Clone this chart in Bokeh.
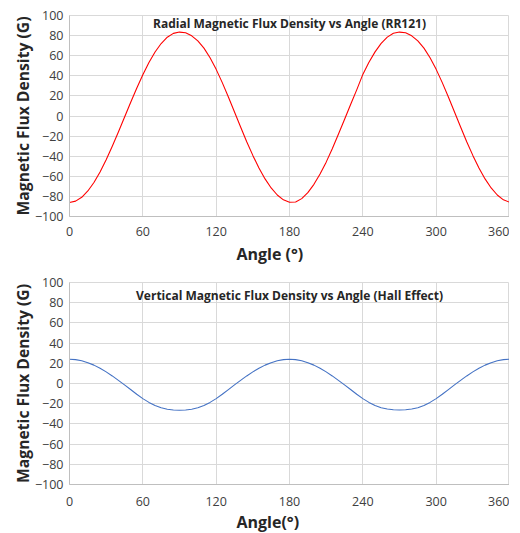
from bokeh.plotting import figure
from bokeh.layouts import column
from bokeh.models import Range1d, FixedTicker, Label, Title
from bokeh.embed import file_html
from bokeh.resources import INLINE

angle = list(range(0, 361, 5))

radial = [-86, -84.7, -80.9, -74.6, -66.2, -55.7, -43.6, -30.2, -16, -1.3,
          13.5, 27.7, 41.1, 53.2, 63.7, 72.1, 78.4, 82.2, 83.5, 82.8,
          79.8, 74.7, 67.5, 58, 46.4, 33.2, 18.9, 4, -11, -25.6,
          -39.2, -51.8, -62.6, -71.6, -78.6, -83.4, -85.8, -85.5, -82.2, -76.3,
          -68, -57.8, -45.9, -32.5, -18.2, -3.4, 11.5, 26, 41.4, 53.4,
          63.8, 72.2, 78.5, 82.3, 83.5, 82.8, 79.8, 74.7, 67.5, 58,
          46.4, 33.2, 18.9, 4, -11, -25.6, -39.2, -51.8, -62.6, -71.6,
          -78.6, -83.4, -85.8]

vertical = [24, 23.6, 22.5, 20.6, 18.2, 15.1, 11.5, 7.5, 3.1, -1.4,
            -6, -10.7, -15, -18.7, -21.8, -24, -25.5, -26.3, -26.5, -26.3,
            -25.5, -24, -21.8, -18.7, -15, -10.7, -6, -1.4, 3.1, 7.5,
            11.5, 15.1, 18.2, 20.6, 22.5, 23.6, 24, 23.6, 22.5, 20.6,
            18.2, 15.1, 11.5, 7.5, 3.1, -1.4, -6, -10.7, -15, -18.7,
            -21.8, -24, -25.3, -26, -26.2, -26, -25.3, -24, -21.8, -18.7,
            -15, -10.7, -6, -1.4, 3.1, 7.5, 11.5, 15.1, 18.2, 20.6,
            22.5, 23.6, 24]

x_ticks = [0, 60, 120, 180, 240, 300, 360]
y_ticks = [-100, -80, -60, -40, -20, 0, 20, 40, 60, 80, 100]

titles = ["Radial Magnetic Flux Density vs Angle (RR121)",
          "Vertical Magnetic Flux Density vs Angle (Hall Effect)"]
x_labels = ["Angle (\u00b0)", "Angle(\u00b0)"]
y_label = "Magnetic Flux Density (G)"

FONT = "Open Sans"


def make(title, series, color, xlabel, fh, top, title_y, tick_sd, lab_sd):
    p = figure(frame_width=440, frame_height=fh,
               x_range=Range1d(0, 360), y_range=Range1d(-100, 100),
               output_backend="svg", toolbar_location=None,
               min_border_left=69, min_border_right=0,
               min_border_top=top, min_border_bottom=0)
    p.line(angle, series, line_color=color, line_width=1.1,
           line_join="round")
    p.outline_line_color = "#d9d9d9"
    p.background_fill_color = "white"
    p.border_fill_color = "white"
    p.xaxis.ticker = FixedTicker(ticks=x_ticks)
    p.yaxis.ticker = FixedTicker(ticks=y_ticks)
    p.xgrid.ticker = FixedTicker(ticks=x_ticks)
    p.ygrid.ticker = FixedTicker(ticks=y_ticks)
    p.grid.grid_line_color = "#d9d9d9"
    p.grid.grid_line_width = 1
    for ax in (p.xaxis, p.yaxis):
        ax.axis_line_color = "#bfbfbf"
        ax.major_tick_line_color = None
        ax.minor_tick_line_color = None
        ax.major_tick_out = 0
        ax.major_tick_in = 0
        ax.major_label_text_font = FONT
        ax.major_label_text_font_size = "12.5px"
        ax.major_label_text_color = "#404040"
        ax.axis_label_text_font = FONT
        ax.axis_label_text_font_style = "bold"
        ax.axis_label_text_font_size = "15.7px"
        ax.axis_label_text_color = "#262626"
    p.yaxis.axis_label = y_label
    p.xaxis.major_label_standoff = tick_sd
    p.yaxis.major_label_standoff = 6
    p.yaxis.axis_label_standoff = -2
    p.add_layout(Title(text=xlabel, align="left", offset=167,
                       standoff=lab_sd, text_font=FONT,
                       text_font_style="bold", text_font_size="16px",
                       text_color="#262626"), "below")
    p.add_layout(Label(x=180, y=title_y, text=title, text_align="center",
                       text_baseline="middle", text_font=FONT,
                       text_font_style="bold", text_font_size="12px",
                       text_color="#262626"))
    return p


p1 = make(titles[0], radial, "#ff0000", x_labels[0], 201, 15, 92, 10, 4)
p2 = make(titles[1], vertical, "#4472c4", x_labels[1], 202, 16, 87.5, 12, 1)

layout = column(p1, p2, spacing=0)
open("out.html", "w").write(file_html(layout, INLINE))
